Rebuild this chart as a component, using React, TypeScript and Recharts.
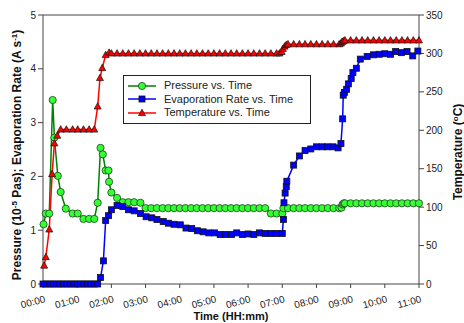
import React from "react";
import {
  LineChart,
  Line,
  XAxis,
  YAxis,
  Legend,
  ReferenceLine,
} from "recharts";

// time in minutes since 00:00
const pressureTime = [
  1, 5, 11, 17, 20, 26, 31, 40, 52, 61, 71, 81, 90, 96, 101, 105, 110, 115, 116, 120,
  130, 140, 150, 160, 171, 180, 190, 200, 210, 220, 230, 240, 250, 260, 270, 280, 290,
  300, 310, 320, 330, 340, 350, 360, 370, 380, 390, 400, 410, 420, 422, 430, 440, 450,
  460, 470, 480, 490, 500, 510, 520, 524, 526, 528, 530, 540, 550, 560, 570, 580, 590,
  600, 610, 620, 630, 640, 650, 660,
];
const pressureValue = [
  1.11, 1.31, 1.31, 3.42, 2.72, 2.01, 1.71, 1.4, 1.31, 1.31, 1.21, 1.21, 1.21, 1.51, 2.53,
  2.41, 2.11, 2.11, 1.9, 1.7, 1.6, 1.52, 1.52, 1.52, 1.51, 1.41, 1.41, 1.41, 1.41, 1.41,
  1.41, 1.41, 1.41, 1.41, 1.41, 1.41, 1.41, 1.41, 1.41, 1.41, 1.41, 1.41, 1.41, 1.41,
  1.41, 1.41, 1.41, 1.31, 1.31, 1.31, 1.41, 1.41, 1.41, 1.41, 1.41, 1.41, 1.41, 1.41,
  1.41, 1.41, 1.41, 1.42, 1.48, 1.5, 1.5, 1.5, 1.5, 1.5, 1.5, 1.5, 1.5, 1.5, 1.5, 1.5,
  1.5, 1.5, 1.5, 1.5,
];

const evapTime = [
  0, 6, 12, 18, 24, 30, 36, 42, 48, 54, 60, 66, 72, 78, 84, 90, 96, 101, 106, 110, 115,
  120, 130, 140, 150, 160, 171, 181, 191, 200, 211, 220, 230, 241, 251, 261, 271, 281,
  291, 301, 311, 320, 331, 340, 350, 360, 370, 380, 390, 400, 410, 420, 422, 423, 425,
  427, 428, 440, 450, 460, 470, 480, 490, 499, 509, 518, 523, 526, 527, 529, 533, 536,
  541, 544, 550, 557, 569, 580, 590, 600, 610, 619, 629, 639, 649, 658,
];
const evapValue = [
  0, 0, 0, 0, 0, 0, 0, 0, 0, 0, 0, 0, 0, 0, 0, 0, 0, 0.12, 0.43, 1.18, 1.27, 1.38, 1.46,
  1.44, 1.38, 1.36, 1.31, 1.25, 1.23, 1.2, 1.16, 1.13, 1.11, 1.1, 1.04, 1.03, 0.99, 0.97,
  0.95, 0.95, 0.92, 0.92, 0.92, 0.95, 0.92, 0.93, 0.92, 0.95, 0.94, 0.94, 0.94, 0.94,
  1.2, 1.51, 1.69, 1.81, 1.91, 2.21, 2.38, 2.48, 2.51, 2.55, 2.55, 2.55, 2.55, 2.53, 2.61,
  3.07, 3.51, 3.56, 3.62, 3.72, 3.82, 3.93, 4.01, 4.18, 4.23, 4.26, 4.27, 4.28, 4.27,
  4.32, 4.3, 4.32, 4.24, 4.33,
];

const tempTime = [
  2, 5, 11, 16, 20, 25, 31, 41, 52, 61, 71, 81, 90, 96, 100, 104, 110, 116, 120, 130, 140,
  150, 160, 170, 180, 190, 200, 210, 220, 230, 240, 250, 260, 270, 280, 290, 300, 310,
  320, 330, 340, 350, 360, 370, 380, 390, 400, 410, 415, 419, 421, 424, 427, 430, 440,
  450, 460, 470, 480, 490, 500, 510, 520, 523, 525, 527, 530, 540, 550, 560, 570, 580,
  590, 600, 610, 620, 630, 640, 650, 660,
];
const tempValue = [
  24, 35, 71, 143, 183, 193, 201, 201, 201, 201, 201, 201, 201, 231, 268, 281, 298, 301,
  300, 300, 300, 300, 300, 300, 300, 300, 300, 300, 300, 300, 300, 300, 300, 300, 300,
  300, 300, 300, 300, 300, 300, 300, 300, 300, 300, 300, 300, 300, 300, 302, 306, 309,
  311, 312, 312, 312, 312, 312, 312, 312, 312, 312, 312, 313, 315, 316, 317, 317, 317,
  317, 317, 317, 317, 317, 317, 317, 317, 317, 317, 317,
];

const timeTicks = [
  0, 30, 60, 90, 120, 150, 180, 210, 240, 270, 300, 330, 360, 390, 420, 450, 480, 510,
  540, 570, 600, 630, 660,
];
const hourLabels = [
  "00:00", "01:00", "02:00", "03:00", "04:00", "05:00", "06:00", "07:00", "08:00",
  "09:00", "10:00", "11:00",
];
const leftTicks = [0, 1, 2, 3, 4, 5];
const rightTicks = [0, 50, 100, 150, 200, 250, 300, 350];

const pressureData = pressureTime.map((t, i) => ({ t, v: pressureValue[i] }));
const evapData = evapTime.map((t, i) => ({ t, v: evapValue[i] }));
const tempData = tempTime.map((t, i) => ({ t, v: tempValue[i] }));

const FONT = "Liberation Sans, Arial, sans-serif";

const CircleDot = (p: any) =>
  p.cx == null ? null : (
    <circle key={p.key} cx={p.cx} cy={p.cy} r={3.6} fill="#33ff33" stroke="#1f3f1f" strokeWidth={0.8} />
  );
const SquareDot = (p: any) =>
  p.cx == null ? null : (
    <rect key={p.key} x={p.cx - 3} y={p.cy - 3} width={6} height={6} fill="#0000ff" stroke="#111" strokeWidth={0.8} />
  );
const TriangleDot = (p: any) =>
  p.cx == null ? null : (
    <polygon
      key={p.key}
      points={`${p.cx},${p.cy - 3.8} ${p.cx + 3.5},${p.cy + 2.6} ${p.cx - 3.5},${p.cy + 2.6}`}
      fill="#ff0000"
      stroke="#111"
      strokeWidth={0.7}
    />
  );

const TimeTick = (props: any) => {
  const { x, y, payload } = props;
  if (payload.value % 60 !== 0) return <g />;
  return (
    <text
      transform={`translate(${x + 3},${y + 12}) rotate(-15)`}
      textAnchor="end"
      fontSize={10}
      fontFamily={FONT}
      fill="#222"
    >
      {hourLabels[payload.value / 60]}
    </text>
  );
};

const legendRows = [
  { name: "Pressure vs. Time", color: "#008000", shape: "circle" },
  { name: "Evaporation Rate vs. Time", color: "#0000ff", shape: "square" },
  { name: "Temperature vs. Time", color: "#ff0000", shape: "triangle" },
];

const LegendBox = () => (
  <div
    style={{
      border: "1px solid #222",
      background: "#fff",
      padding: "3px 0 3px 4px",
      fontFamily: FONT,
      fontSize: 11,
      color: "#222",
      lineHeight: "13.5px",
    }}
  >
    {legendRows.map((r) => (
      <div key={r.name} style={{ display: "flex", alignItems: "center" }}>
        <svg width={32} height={12} style={{ marginRight: 4 }}>
          <line x1={0} y1={6} x2={28} y2={6} stroke={r.color} strokeWidth={1.5} />
          {r.shape === "circle" && <CircleDot cx={14} cy={6} />}
          {r.shape === "square" && <SquareDot cx={14} cy={6} />}
          {r.shape === "triangle" && <TriangleDot cx={14} cy={6} />}
        </svg>
        <span>{r.name}</span>
      </div>
    ))}
  </div>
);

export default function App() {
  return (
    <div style={{ position: "absolute", left: 0, top: 0, width: 464, height: 323, background: "#fff" }}>
      <LineChart width={464} height={323} margin={{ top: 15, right: 15, bottom: 0, left: 13 }}>
        <XAxis
          dataKey="t"
          type="number"
          domain={[0, 660]}
          ticks={timeTicks}
          tick={<TimeTick />}
          tickSize={4}
          height={39}
          axisLine={{ stroke: "#444" }}
          tickLine={{ stroke: "#444" }}
          allowDuplicatedCategory={false}
        />
        <YAxis
          yAxisId="left"
          domain={[0, 5]}
          ticks={leftTicks}
          width={30}
          tickSize={5}
          axisLine={{ stroke: "#444" }}
          tickLine={{ stroke: "#444" }}
          tick={{ fontSize: 10, fill: "#222", fontFamily: FONT }}
        />
        <YAxis
          yAxisId="right"
          orientation="right"
          domain={[0, 350]}
          ticks={rightTicks}
          width={30}
          tickSize={5}
          axisLine={{ stroke: "#444" }}
          tickLine={{ stroke: "#444" }}
          tick={{ fontSize: 10, fill: "#222", fontFamily: FONT }}
        />
        <ReferenceLine yAxisId="left" y={5} stroke="#444" />
        <Legend
          layout="horizontal"
          verticalAlign="middle"
          align="center"
          content={<LegendBox />}
          wrapperStyle={{ left: 123, top: 75, width: 188, height: 52 }}
        />
        <Line
          data={pressureData}
          yAxisId="left"
          dataKey="v"
          name="Pressure vs. Time"
          stroke="#008000"
          strokeWidth={1.5}
          dot={CircleDot}
          isAnimationActive={false}
        />
        <Line
          data={evapData}
          yAxisId="left"
          dataKey="v"
          name="Evaporation Rate vs. Time"
          stroke="#0000ff"
          strokeWidth={1.5}
          dot={SquareDot}
          isAnimationActive={false}
        />
        <Line
          data={tempData}
          yAxisId="right"
          dataKey="v"
          name="Temperature vs. Time"
          stroke="#ff0000"
          strokeWidth={1.5}
          dot={TriangleDot}
          isAnimationActive={false}
        />
      </LineChart>
      <svg width={464} height={323} style={{ position: "absolute", left: 0, top: 0, pointerEvents: "none" }}>
        <text
          transform="translate(21,155) rotate(-90)"
          textAnchor="middle"
          fontSize={12}
          fontWeight="bold"
          fontFamily={FONT}
          fill="#111"
        >
          Pressure (10
          <tspan dy={-4.5} fontSize={8}>-5</tspan>
          <tspan dy={4.5}> Pas); Evaporation Rate (A s</tspan>
          <tspan dy={-4.5} fontSize={8}>-1</tspan>
          <tspan dy={4.5}>)</tspan>
        </text>
        <text
          transform="translate(462,152) rotate(-90)"
          textAnchor="middle"
          fontSize={12}
          fontWeight="bold"
          fontFamily={FONT}
          fill="#111"
        >
          Temperature (
          <tspan dy={-4.5} fontSize={8}>o</tspan>
          <tspan dy={4.5}>C)</tspan>
        </text>
        <text x={231} y={320} textAnchor="middle" fontSize={11} fontWeight="bold" fontFamily={FONT} fill="#111">
          Time (HH:mm)
        </text>
      </svg>
    </div>
  );
}
